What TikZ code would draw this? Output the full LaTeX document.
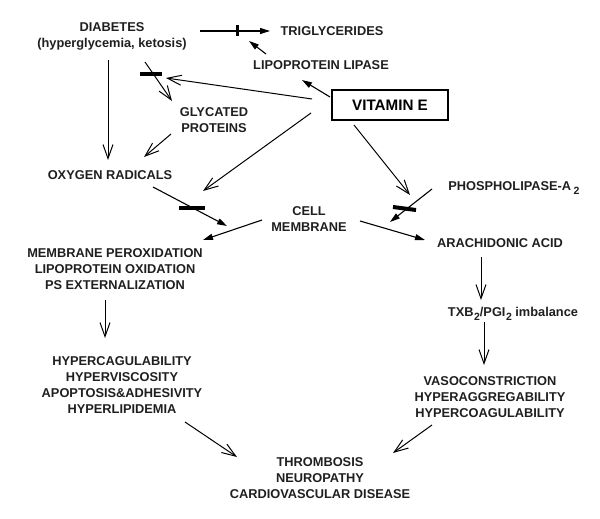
\documentclass[tikz,border=0pt]{standalone}
\usepackage{fontspec}
\setmainfont{Liberation Sans}
\usetikzlibrary{arrows.meta,calc}
\newcommand{\lowsub}[1]{\kern0.5pt\raisebox{-3.5pt}{\fontsize{10.5}{10.5}\selectfont #1}}
\tikzset{
  lbl/.style={inner sep=0pt, align=center, font=\fontsize{12.8}{16}\selectfont\bfseries, text=black!88},
  vbox/.style={draw, line width=1.2pt, minimum width=116pt, minimum height=30pt, inner sep=0pt, font=\fontsize{15.2}{18}\selectfont\bfseries},
  openarr/.style={line width=1pt, -{Straight Barb[length=14pt,width=10pt,line width=1pt]}},
  fillarr/.style={line width=1.1pt, -{Triangle[length=10pt,width=6pt]}},
  blk/.style={line width=4pt},
}
\begin{document}
\begin{tikzpicture}[x=1pt,y=-1pt]
\useasboundingbox (0,0) rectangle (600,519);
% nodes
\node[lbl] (diab) at (112,36) {DIABETES\\(hyperglycemia, ketosis)};
\node[lbl] (trig) at (332,31) {TRIGLYCERIDES};
\node[lbl] (lpl) at (321,65) {LIPOPROTEIN LIPASE};
\node[vbox] (vite) at (390,105) {VITAMIN E};
\node[lbl] (glyc) at (214,120.5) {GLYCATED\\PROTEINS};
\node[lbl] (oxy) at (110,175) {OXYGEN RADICALS};
\node[lbl] (cell) at (309,219) {CELL\\MEMBRANE};
\node[lbl] (memb) at (115,269.5) {MEMBRANE PEROXIDATION\\LIPOPROTEIN OXIDATION\\PS EXTERNALIZATION};
\node[lbl] (phos) at (514,188) {PHOSPHOLIPASE-A\kern2pt\lowsub{2}};
\node[lbl] (arach) at (500,243) {ARACHIDONIC ACID};
\node[lbl] (txb) at (513,314) {TXB\lowsub{2}/PGI\lowsub{2} imbalance};
\node[lbl] (hyperc) at (122,385.5) {HYPERCAGULABILITY\\HYPERVISCOSITY\\APOPTOSIS\&ADHESIVITY\\HYPERLIPIDEMIA};
\node[lbl] (vaso) at (490,397) {VASOCONSTRICTION\\HYPERAGGREGABILITY\\HYPERCOAGULABILITY};
\node[lbl] (throm) at (320,478) {THROMBOSIS\\NEUROPATHY\\CARDIOVASCULAR DISEASE};
% block points
\coordinate (bar0) at (237,30.5);
\coordinate (bar1) at (151,74);
\coordinate (bar2) at (192,208);
\coordinate (bar3) at (404.5,208.5);
% connectors
\draw[fillarr] ($(diab)+(88,-5)$) -- ($(trig)+(-62,0)$);
\draw[line width=3pt] ($(bar0)+(0,-5.5)$) -- ($(bar0)+(0,5.5)$);
\draw[fillarr] ($(lpl)+(-55,-11)$) -- ($(lpl)+(-72,-24)$);
\draw[fillarr] ($(vite)+(-60,-8)$) -- ($(lpl)+(-19,15)$);
\draw[openarr] ($(vite)+(-78,-6)$) -- ($(bar1)+(15,4)$);
\draw[openarr] ($(diab)+(33,26)$) -- ($(glyc)+(-42,-19.5)$);
\draw[blk] ($(bar1)+(-11,0)$) -- ($(bar1)+(11,0)$);
\draw[openarr] ($(diab)+(-4,24)$) -- ($(oxy)+(-2,-15)$);
\draw[openarr] ($(glyc)+(-43,13.5)$) -- ($(oxy)+(34,-18)$);
\draw[openarr] ($(vite)+(-79,8)$) -- ($(bar2)+(11,-17)$);
\draw[fillarr] ($(oxy)+(43,12)$) -- ($(cell)+(-82,7)$);
\draw[blk] ($(bar2)+(-13,0)$) -- ($(bar2)+(13,0)$);
\draw[fillarr] ($(cell)+(-47,1)$) -- ($(memb)+(88,-29.5)$);
\draw[openarr] ($(vite)+(-36,20)$) -- ($(bar3)+(5.5,-13.5)$);
\draw[fillarr] ($(phos)+(-82,1)$) -- ($(bar3)+(-14.5,13.5)$);
\draw[blk] ($(bar3)+(-11.5,-1.5)$) -- ($(bar3)+(11.5,1.5)$);
\draw[fillarr] ($(cell)+(51,2)$) -- ($(arach)+(-75,-3)$);
\draw[openarr] ($(arach)+(-19,14)$) -- ($(txb)+(-32,-14)$);
\draw[openarr] ($(txb)+(-29,8)$) -- ($(vaso)+(-6,-32)$);
\draw[openarr] ($(memb)+(-10,30.5)$) -- ($(hyperc)+(-17,-47.5)$);
\draw[openarr] ($(hyperc)+(63,36.5)$) -- ($(throm)+(-83,-21)$);
\draw[openarr] ($(vaso)+(-58,28)$) -- ($(throm)+(73,-25)$);
\end{tikzpicture}
\end{document}
